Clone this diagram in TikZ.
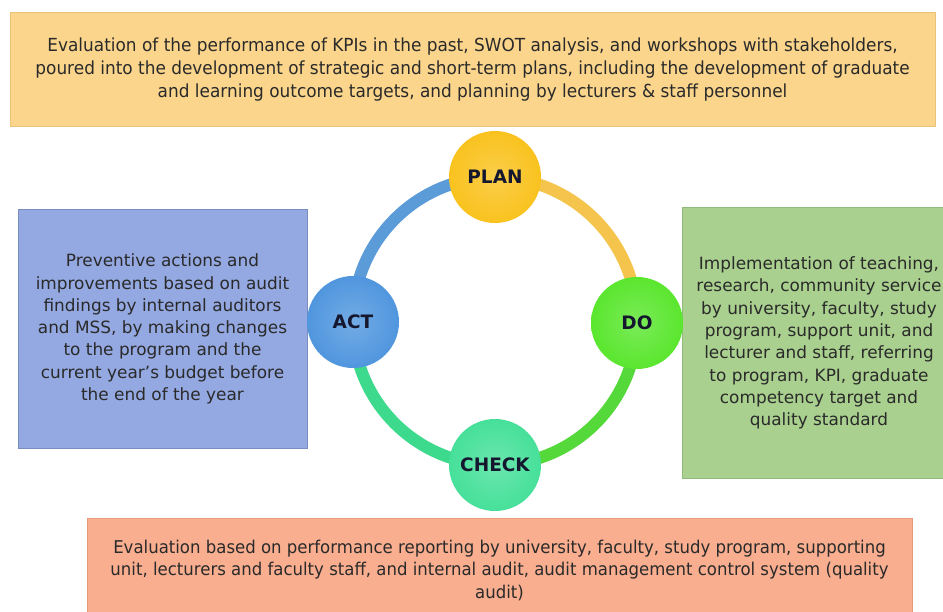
\documentclass[tikz,border=0pt]{standalone}
\usepackage{fontspec}
\setmainfont{DejaVu Sans}
\newfontfamily\condfont[FakeStretch=0.94]{DejaVu Sans}
\usetikzlibrary{shadings}
\pgfdeclarelayer{bg}
\pgfsetlayers{bg,main}
\definecolor{topfill}{HTML}{FBD58C}
\definecolor{topline}{HTML}{EBC27A}
\definecolor{leftfill}{HTML}{94A8E1}
\definecolor{leftline}{HTML}{7A8CC0}
\definecolor{rightfill}{HTML}{A9D08E}
\definecolor{rightline}{HTML}{90BA7C}
\definecolor{botfill}{HTML}{F8AE8F}
\definecolor{botline}{HTML}{E69A7C}
\definecolor{planc}{HTML}{F9C21E}
\definecolor{doc}{HTML}{5AE62E}
\definecolor{checkc}{HTML}{46E09A}
\definecolor{actc}{HTML}{5096DE}
\definecolor{ringblue}{HTML}{5B9BD8}
\definecolor{ringorange}{HTML}{F5C44C}
\definecolor{ringgreen}{HTML}{55D83A}
\definecolor{ringteal}{HTML}{3DD98C}
\definecolor{txt}{HTML}{2A2A2A}
\definecolor{circtxt}{HTML}{15172E}
\tikzset{
  textbox/.style={draw, line width=1pt, rectangle, align=center, text=txt, inner sep=0pt},
  widebox/.style={textbox, font=\condfont\fontsize{18}{23}\selectfont},
  sidebox/.style={textbox, font=\fontsize{16.9}{22.3}\selectfont},
  phase/.style={circle, minimum size=92pt, inner sep=0pt, text=circtxt,
    font=\fontsize{18.5}{20}\selectfont\bfseries},
  ring/.style={line width=12pt}
}
\begin{document}
\begin{tikzpicture}[x=1pt,y=1pt]
\useasboundingbox (0,0) rectangle (943,-612);

% text boxes
\node[widebox, fill=topfill, draw=topline, minimum width=925pt, minimum height=114pt] (top) at (472.5,-70)
  {Evaluation of the performance of KPIs in the past, SWOT analysis, and workshops with stakeholders,\\
   poured into the development of strategic and short-term plans, including the development of graduate\\
   and learning outcome targets, and planning by lecturers \& staff personnel};

\node[sidebox, fill=leftfill, draw=leftline, minimum width=289pt, minimum height=238pt] (left) at (162.5,-329)
  {Preventive actions and\\ improvements based on audit\\ findings by internal auditors\\ and MSS, by making changes\\
   to the program and the\\ current year's budget before\\ the end of the year};

\node[sidebox, fill=rightfill, draw=rightline, minimum width=274pt, minimum height=270pt] (right) at (819,-343)
  {Implementation of teaching,\\ research, community service\\ by university, faculty, study\\ program, support unit, and\\
   lecturer and staff, referring\\ to program, KPI, graduate\\ competency target and\\ quality standard};

\node[widebox, font=\condfont\fontsize{17.6}{22.5}\selectfont, fill=botfill, draw=botline, minimum width=825pt, minimum height=104pt] (bottom) at (499.5,-570)
  {Evaluation based on performance reporting by university, faculty, study program, supporting\\
   unit, lecturers and faculty staff, and internal audit, audit management control system (quality\\
   audit)};

% phase circles
\node[phase, shading=radial, inner color=planc!80!white, outer color=planc] (plan) at (495,-177) {PLAN};
\node[phase, shading=radial, inner color=doc!80!white, outer color=doc] (do) at (637,-323) {DO};
\node[phase, shading=radial, inner color=checkc!80!white, outer color=checkc] (check) at (495,-465) {CHECK};
\node[phase, shading=radial, inner color=actc!80!white, outer color=actc] (act) at (353,-322) {ACT};

% ring arcs
\begin{pgfonlayer}{bg}
\fill[white] (0,0) rectangle (943,-612);
\draw[ring, ringblue] (act.center) to[bend left=45] (plan.center);
\draw[ring, ringorange] (plan.center) to[bend left=45] (do.center);
\draw[ring, ringgreen] (do.center) to[bend left=45] (check.center);
\draw[ring, ringteal] (check.center) to[bend left=45] (act.center);
\end{pgfonlayer}
\end{tikzpicture}
\end{document}
